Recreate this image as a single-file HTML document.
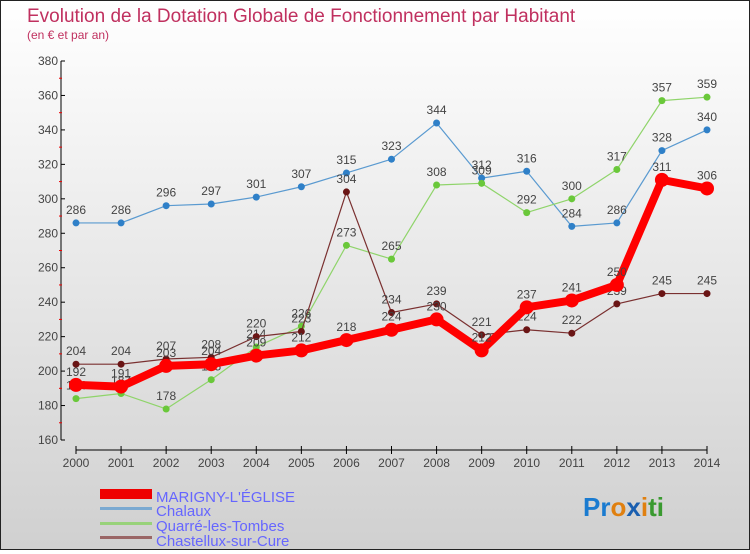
<!DOCTYPE html>
<html><head><meta charset="utf-8"><style>
html,body{margin:0;padding:0;}
body{width:750px;height:550px;overflow:hidden;font-family:"Liberation Sans",sans-serif;}
#wrap{position:relative;width:748px;height:548px;border:1px solid #222;background:linear-gradient(#fff,#d0d0d0);}
</style></head><body>
<div id="wrap">
<svg id="chart" width="748" height="548" xmlns="http://www.w3.org/2000/svg">
<text x="26" y="21" font-size="19" fill="#c0305f">Evolution de la Dotation Globale de Fonctionnement par Habitant</text>
<text x="26" y="38" font-size="12" fill="#c0305f">(en € et par an)</text>
<g id="axes"></g><g id="series"></g>
<g>
<rect x="99" y="488" width="52" height="10" fill="#e00"/>
<text x="155" y="501" font-size="15" fill="#66f">MARIGNY-L'ÉGLISE</text>
<rect x="99" y="506" width="52" height="3" fill="#7aa9d1"/>
<text x="155" y="515" font-size="15" fill="#66f">Chalaux</text>
<rect x="99" y="521" width="52" height="3" fill="#98d27a"/>
<text x="155" y="530" font-size="15" fill="#66f">Quarré-les-Tombes</text>
<rect x="99" y="535" width="52" height="3" fill="#9a6666"/>
<text x="155" y="545" font-size="15" fill="#66f">Chastellux-sur-Cure</text>
</g>
<text x="582" y="515" font-size="26" font-weight="bold"><tspan fill="#1a7bd0">Pr</tspan><tspan fill="#e08010">o</tspan><tspan fill="#1a5fb0">x</tspan><tspan fill="#e08010">i</tspan><tspan fill="#3a9a30">ti</tspan></text>
</svg>
</div>
<script>
const years=[2000,2001,2002,2003,2004,2005,2006,2007,2008,2009,2010,2011,2012,2013,2014];
const marigny=[192,191,203,204,209,212,218,224,230,212,237,241,250,311,306];
const chalaux=[286,286,296,297,301,307,315,323,344,312,316,284,286,328,340];
const quarre=[184,187,178,195,214,226,273,265,308,309,292,300,317,357,359];
const chastellux=[204,204,207,208,220,223,304,234,239,221,224,222,239,245,245];
const yTicks=[160,180,200,220,240,260,280,300,320,340,360,380];
const NS="http://www.w3.org/2000/svg";
function xs(i){return 75+i*(631/14);}
function ys(v){return 60+(380-v)*(379/220);}
function mk(tag,attrs,parent){const e=document.createElementNS(NS,tag);for(const k in attrs)e.setAttribute(k,attrs[k]);parent.appendChild(e);return e;}
const ax=document.getElementById('axes');
let a=mk('line',{x1:60,y1:60,x2:60,y2:439,stroke:'#000','stroke-width':1},ax);


yTicks.forEach(v=>{
 const y=ys(v);
 mk('line',{x1:60,y1:y,x2:64,y2:y,stroke:'#000'},ax);
 if(v<380)mk('line',{x1:58,y1:ys(v+10),x2:61,y2:ys(v+10),stroke:'#e00'},ax);
 const t=mk('text',{x:57,y:y+4,'font-size':12,fill:'#444','text-anchor':'end'},ax);
 t.textContent=v;
 
 
});
a=mk('line',{x1:75,y1:449,x2:706,y2:449,stroke:'#000'},ax);


years.forEach((yr,i)=>{
 mk('line',{x1:xs(i),y1:445,x2:xs(i),y2:453,stroke:'#000'},ax);
 const t=mk('text',{x:xs(i),y:466,'font-size':12,fill:'#444','text-anchor':'middle'},ax);
 t.textContent=yr;
 
 
});
const sg=document.getElementById('series');
function draw(data,name,color,w,r,dot){
 const g=mk('g',{},sg);
 
 
 mk('polyline',{points:data.map((v,i)=>xs(i)+','+ys(v)).join(' '),fill:'none',stroke:color,'stroke-width':w,'stroke-linejoin':'round'},g);
 data.forEach((v,i)=>{
  const c=mk('circle',{cx:xs(i),cy:ys(v),r:r,fill:dot},g);
  
  
  const t=mk('text',{x:xs(i),y:ys(v)-9,'font-size':12,fill:'#444','text-anchor':'middle'},g);
  t.textContent=v;
  
  
 });
}
draw(chalaux,'chalaux','#5a9ad0',1.2,3.5,'#2f80c8');
draw(quarre,'quarre','#8fd46a',1.2,3.5,'#6ac83a');
draw(chastellux,'chastellux','#7a3030',1.2,3.5,'#6a1515');
draw(marigny,'marigny','#f00',8,7,'#f00');
</script>
</body></html>
